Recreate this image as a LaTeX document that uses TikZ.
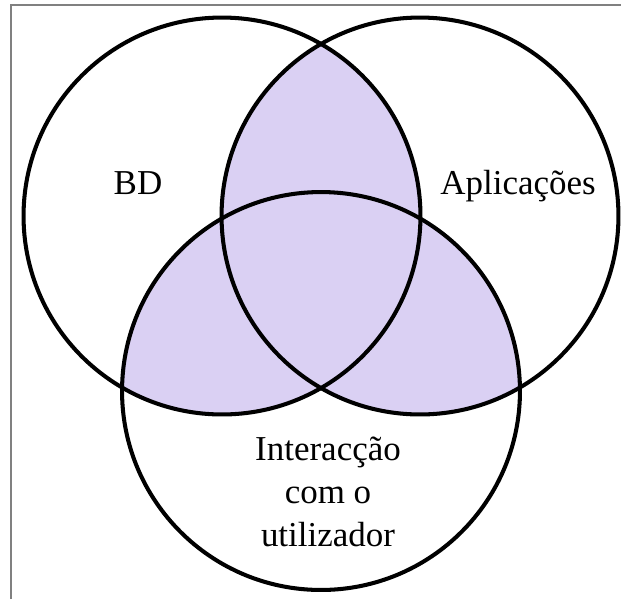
\documentclass[tikz,border=0pt]{standalone}
\usepackage{fontspec}
\setmainfont{Liberation Serif}
\definecolor{lilac}{RGB}{218,208,243}
\definecolor{framegray}{RGB}{128,128,128}
\tikzset{
  ring/.style={draw=black, line width=2.3pt},
  label/.style={font=\fontsize{19.9}{24.5}\selectfont, align=center}
}
\begin{document}
\begin{tikzpicture}[x=0.02cm, y=-0.02cm]
    \useasboundingbox (0,0) rectangle (621,599);
    \draw[framegray, line width=0.8pt] (11,599) -- (11,5) -- (621,5);
    \coordinate (cbd) at (222,216);
    \coordinate (capp) at (420,216);
    \coordinate (cui) at (321,391);
% overlaps
    \begin{scope}
    \clip (cbd) circle (3.97cm);
    \fill[lilac] (capp) circle (3.97cm);
    \fill[lilac] (cui) circle (3.98cm);
    \end{scope}
    \begin{scope}
    \clip (capp) circle (3.97cm);
    \fill[lilac] (cui) circle (3.98cm);
    \end{scope}
    \draw[ring] (cbd) circle (3.97cm);
    \draw[ring] (capp) circle (3.97cm);
    \draw[ring] (cui) circle (3.98cm);
    \node (bd) at (138,194) [label, anchor=base] {BD};
    \node (app) at (518,194) [label, anchor=base] {Aplicações};
    \node (ui) at (328,492) [label] {Interacção\\com o\\utilizador};
\end{tikzpicture}
\end{document}
